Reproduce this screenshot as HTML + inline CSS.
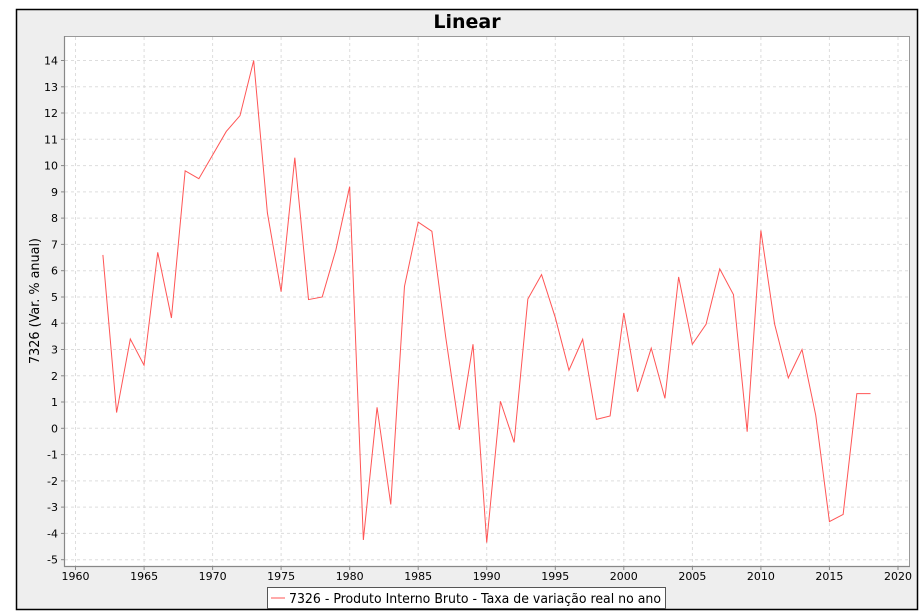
<!DOCTYPE html>
<html><head><meta charset="utf-8"><style>
html,body{margin:0;padding:0;background:#fff;}
svg{display:block;font-family:"DejaVu Sans","Liberation Sans",sans-serif;}
</style></head><body>
<svg width="923" height="615" viewBox="0 0 923 615" xmlns="http://www.w3.org/2000/svg">
<rect x="0" y="0" width="923" height="615" fill="#fff"/>
<rect x="16.5" y="9.5" width="901" height="600" fill="#eeeeee" stroke="#000" stroke-width="1.5"/>
<text x="467" y="28" text-anchor="middle" font-size="19" font-weight="bold" fill="#000">Linear</text>
<rect x="64.5" y="36.5" width="845" height="530" fill="#fff"/>
<g stroke="#dddddd" stroke-width="1" stroke-dasharray="3,3">
<line x1="75.5" y1="37" x2="75.5" y2="566"/><line x1="144.1" y1="37" x2="144.1" y2="566"/><line x1="212.6" y1="37" x2="212.6" y2="566"/><line x1="281.1" y1="37" x2="281.1" y2="566"/><line x1="349.7" y1="37" x2="349.7" y2="566"/><line x1="418.2" y1="37" x2="418.2" y2="566"/><line x1="486.7" y1="37" x2="486.7" y2="566"/><line x1="555.3" y1="37" x2="555.3" y2="566"/><line x1="623.8" y1="37" x2="623.8" y2="566"/><line x1="692.4" y1="37" x2="692.4" y2="566"/><line x1="760.9" y1="37" x2="760.9" y2="566"/><line x1="829.4" y1="37" x2="829.4" y2="566"/><line x1="898" y1="37" x2="898" y2="566"/>
<line x1="65" y1="60.5" x2="909" y2="60.5"/><line x1="65" y1="86.8" x2="909" y2="86.8"/><line x1="65" y1="113" x2="909" y2="113"/><line x1="65" y1="139.3" x2="909" y2="139.3"/><line x1="65" y1="165.6" x2="909" y2="165.6"/><line x1="65" y1="191.9" x2="909" y2="191.9"/><line x1="65" y1="218.1" x2="909" y2="218.1"/><line x1="65" y1="244.4" x2="909" y2="244.4"/><line x1="65" y1="270.7" x2="909" y2="270.7"/><line x1="65" y1="297" x2="909" y2="297"/><line x1="65" y1="323.2" x2="909" y2="323.2"/><line x1="65" y1="349.5" x2="909" y2="349.5"/><line x1="65" y1="375.8" x2="909" y2="375.8"/><line x1="65" y1="402" x2="909" y2="402"/><line x1="65" y1="428.3" x2="909" y2="428.3"/><line x1="65" y1="454.6" x2="909" y2="454.6"/><line x1="65" y1="480.9" x2="909" y2="480.9"/><line x1="65" y1="507.1" x2="909" y2="507.1"/><line x1="65" y1="533.4" x2="909" y2="533.4"/><line x1="65" y1="559.7" x2="909" y2="559.7"/>
</g>
<rect x="64.5" y="36.5" width="845" height="530" fill="none" stroke="#999" stroke-width="1"/>
<line x1="64.5" y1="36" x2="64.5" y2="567" stroke="#888" stroke-width="1.2"/>
<line x1="64" y1="566.5" x2="910" y2="566.5" stroke="#888" stroke-width="1.2"/>
<g stroke="#888" stroke-width="1">
<line x1="61" y1="60.5" x2="64" y2="60.5"/><line x1="61" y1="86.8" x2="64" y2="86.8"/><line x1="61" y1="113" x2="64" y2="113"/><line x1="61" y1="139.3" x2="64" y2="139.3"/><line x1="61" y1="165.6" x2="64" y2="165.6"/><line x1="61" y1="191.9" x2="64" y2="191.9"/><line x1="61" y1="218.1" x2="64" y2="218.1"/><line x1="61" y1="244.4" x2="64" y2="244.4"/><line x1="61" y1="270.7" x2="64" y2="270.7"/><line x1="61" y1="297" x2="64" y2="297"/><line x1="61" y1="323.2" x2="64" y2="323.2"/><line x1="61" y1="349.5" x2="64" y2="349.5"/><line x1="61" y1="375.8" x2="64" y2="375.8"/><line x1="61" y1="402" x2="64" y2="402"/><line x1="61" y1="428.3" x2="64" y2="428.3"/><line x1="61" y1="454.6" x2="64" y2="454.6"/><line x1="61" y1="480.9" x2="64" y2="480.9"/><line x1="61" y1="507.1" x2="64" y2="507.1"/><line x1="61" y1="533.4" x2="64" y2="533.4"/><line x1="61" y1="559.7" x2="64" y2="559.7"/>
<line x1="75.5" y1="567" x2="75.5" y2="570"/><line x1="144.1" y1="567" x2="144.1" y2="570"/><line x1="212.6" y1="567" x2="212.6" y2="570"/><line x1="281.1" y1="567" x2="281.1" y2="570"/><line x1="349.7" y1="567" x2="349.7" y2="570"/><line x1="418.2" y1="567" x2="418.2" y2="570"/><line x1="486.7" y1="567" x2="486.7" y2="570"/><line x1="555.3" y1="567" x2="555.3" y2="570"/><line x1="623.8" y1="567" x2="623.8" y2="570"/><line x1="692.4" y1="567" x2="692.4" y2="570"/><line x1="760.9" y1="567" x2="760.9" y2="570"/><line x1="829.4" y1="567" x2="829.4" y2="570"/><line x1="898" y1="567" x2="898" y2="570"/>
</g>
<g font-size="11" fill="#000" text-anchor="end">
<text x="58" y="64.5">14</text><text x="58" y="90.8">13</text><text x="58" y="117">12</text><text x="58" y="143.3">11</text><text x="58" y="169.6">10</text><text x="58" y="195.9">9</text><text x="58" y="222.1">8</text><text x="58" y="248.4">7</text><text x="58" y="274.7">6</text><text x="58" y="301">5</text><text x="58" y="327.2">4</text><text x="58" y="353.5">3</text><text x="58" y="379.8">2</text><text x="58" y="406">1</text><text x="58" y="432.3">0</text><text x="58" y="458.6">-1</text><text x="58" y="484.9">-2</text><text x="58" y="511.1">-3</text><text x="58" y="537.4">-4</text><text x="58" y="563.7">-5</text>
</g>
<g font-size="11" fill="#000" text-anchor="middle">
<text x="75.5" y="580">1960</text><text x="144.1" y="580">1965</text><text x="212.6" y="580">1970</text><text x="281.1" y="580">1975</text><text x="349.7" y="580">1980</text><text x="418.2" y="580">1985</text><text x="486.7" y="580">1990</text><text x="555.3" y="580">1995</text><text x="623.8" y="580">2000</text><text x="692.4" y="580">2005</text><text x="760.9" y="580">2010</text><text x="829.4" y="580">2015</text><text x="898" y="580">2020</text>
</g>
<text transform="translate(39,301) rotate(-90)" text-anchor="middle" font-size="13" fill="#000" textLength="126" lengthAdjust="spacingAndGlyphs">7326 (Var. % anual)</text>
<polyline transform="matrix(13.708,0,0,-26.27,-26792.2,428.3)" vector-effect="non-scaling-stroke" fill="none" stroke="#ff5555" stroke-width="1"
points="1962,6.6 1963,0.6 1964,3.4 1965,2.4 1966,6.7 1967,4.2 1968,9.8 1969,9.5 1970,10.4 1971,11.3 1972,11.9 1973,14.0 1974,8.2 1975,5.2 1976,10.3 1977,4.9 1978,5.0 1979,6.8 1980,9.2 1981,-4.25 1982,0.8 1983,-2.9 1984,5.4 1985,7.85 1986,7.5 1987,3.5 1988,-0.06 1989,3.2 1990,-4.35 1991,1.03 1992,-0.54 1993,4.92 1994,5.85 1995,4.22 1996,2.21 1997,3.39 1998,0.34 1999,0.47 2000,4.39 2001,1.39 2002,3.05 2003,1.14 2004,5.76 2005,3.2 2006,3.96 2007,6.07 2008,5.09 2009,-0.13 2010,7.53 2011,3.97 2012,1.92 2013,3.0 2014,0.5 2015,-3.55 2016,-3.28 2017,1.32 2018,1.32"/>
<rect x="267.5" y="587.5" width="398" height="21" fill="#fff" stroke="#555" stroke-width="1"/>
<line x1="271" y1="598" x2="285" y2="598" stroke="#ff5555" stroke-width="1"/>
<text x="289" y="603" font-size="13" fill="#000" textLength="372" lengthAdjust="spacingAndGlyphs">7326 - Produto Interno Bruto - Taxa de variação real no ano</text>
</svg>
</body></html>
